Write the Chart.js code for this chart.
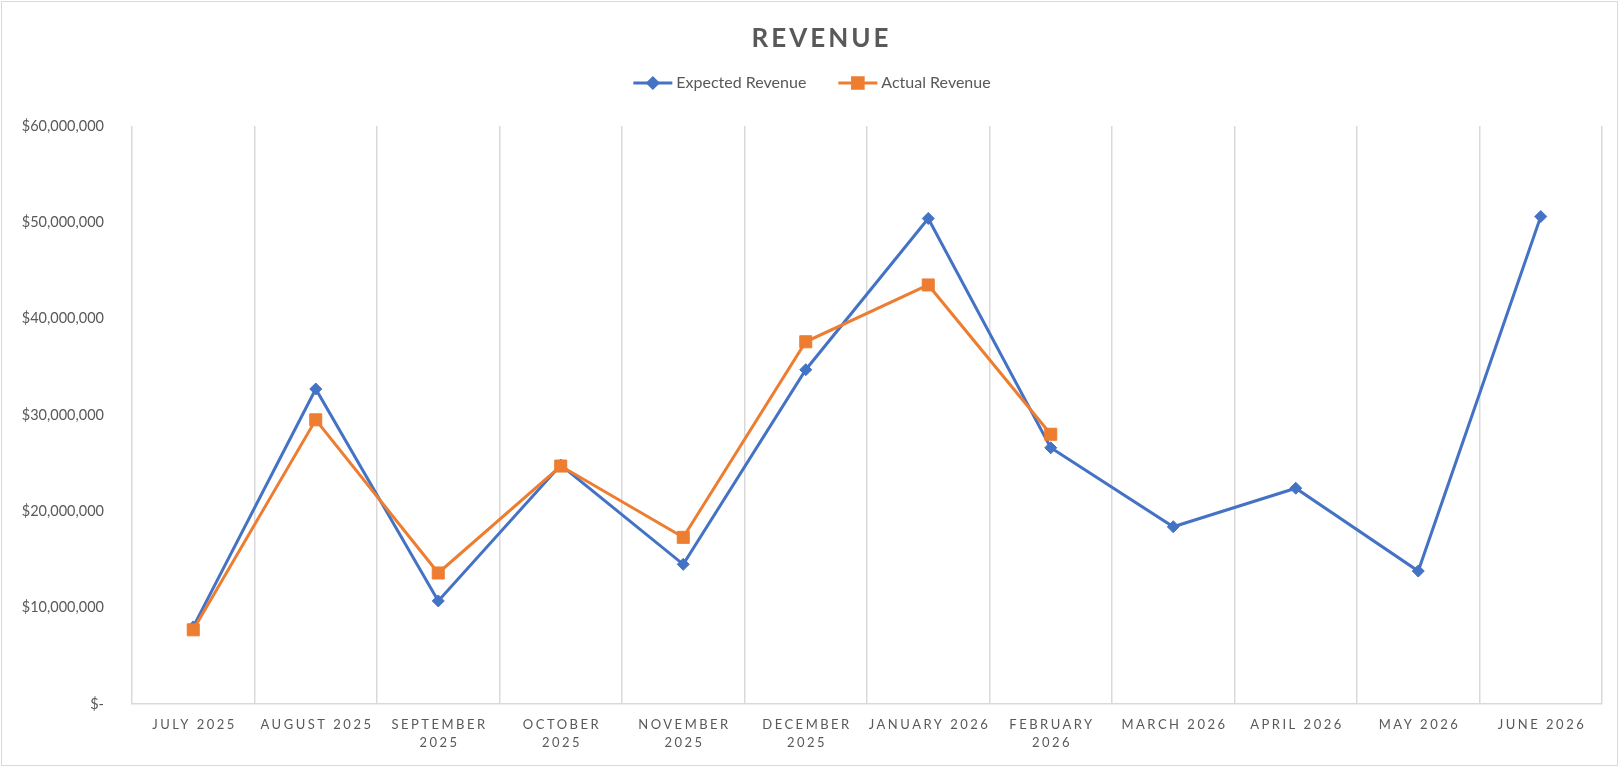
<!DOCTYPE html>
<html>
<head>
<meta charset="utf-8">
<script src="https://cdn.jsdelivr.net/npm/chart.js@4.4.1/dist/chart.umd.min.js"></script>
<style>
  html, body { margin: 0; padding: 0; background: #ffffff; }
  #wrap { position: relative; width: 1619px; height: 767px; }
</style>
</head>
<body>
<div id="wrap"><canvas id="c" width="1619" height="767"></canvas></div>
<script>
// ---- Data ----
const months = ["July 2025", "August 2025", "September 2025", "October 2025", "November 2025", "December 2025",
                "January 2026", "February 2026", "March 2026", "April 2026", "May 2026", "June 2026"];
const tickLabels = [["JULY 2025"], ["AUGUST 2025"], ["SEPTEMBER", "2025"], ["OCTOBER", "2025"], ["NOVEMBER", "2025"],
                    ["DECEMBER", "2025"], ["JANUARY 2026"], ["FEBRUARY", "2026"], ["MARCH 2026"], ["APRIL 2026"],
                    ["MAY 2026"], ["JUNE 2026"]];
const expectedRevenue = [8000000, 32700000, 10700000, 24800000, 14500000, 34700000,
                         50400000, 26600000, 18400000, 22400000, 13800000, 50600000];
const actualRevenue = [7700000, 29500000, 13600000, 24700000, 17300000, 37600000,
                       43500000, 28000000, null, null, null, null];
const yTickValues = [0, 10000000, 20000000, 30000000, 40000000, 50000000, 60000000];
const titleText = "REVENUE";
const seriesNames = ["Expected Revenue", "Actual Revenue"];

// ---- Styling ----
const BLUE = "#4472C4", ORANGE = "#ED7D31", TEXT = "#595959", GRID = "#d9d9d9";
const FONT = "Lato";

const borderPlugin = {
  id: "frame",
  beforeDraw(chart) {
    const ctx = chart.ctx;
    ctx.save();
    ctx.fillStyle = "#ffffff";
    ctx.fillRect(0, 0, chart.width, chart.height);
    ctx.strokeStyle = GRID;
    ctx.lineWidth = 1;
    ctx.strokeRect(1.5, 1.5, chart.width - 3, chart.height - 3);
    ctx.restore();
  }
};

const spacingPlugin = {
  id: "spacing",
  afterLayout(chart) {
    const xs = chart.scales.x;
    if (xs && !xs._spaced) {
      const orig = xs.drawLabels;
      xs.drawLabels = function (area) {
        const ctx = this.ctx;
        ctx.save();
        ctx.letterSpacing = "2.5px";
        ctx.translate(1.25, 0);
        orig.call(this, area);
        ctx.restore();
      };
      xs._spaced = true;
    }
    const tb = chart.titleBlock;
    if (tb && !tb._spaced) {
      const origT = tb.draw;
      tb.draw = function () {
        const ctx = this.ctx;
        ctx.save();
        ctx.letterSpacing = "3px";
        const cx = (this.left + this.right) / 2;
        ctx.translate(821.5 - cx, 0);
        origT.call(this);
        ctx.restore();
      };
      tb._spaced = true;
    }
  }
};

const legendPlugin = {
  id: "lineLegend",
  afterDraw(chart) {
    const ctx = chart.ctx;
    const ds = chart.data.datasets;
    const lineW = 39, gap = 4, itemGap = 32, y = 83;
    ctx.save();
    ctx.font = "16px " + FONT;
    const widths = ds.map(d => ctx.measureText(d.label).width);
    let total = 0;
    widths.forEach((w, i) => { total += lineW + gap + w + (i < widths.length - 1 ? itemGap : 0); });
    let x = 812 - total / 2;
    ds.forEach((d, i) => {
      ctx.strokeStyle = d.borderColor;
      ctx.lineWidth = 3;
      ctx.beginPath();
      ctx.moveTo(x, y);
      ctx.lineTo(x + lineW, y);
      ctx.stroke();
      ctx.fillStyle = d.pointBackgroundColor;
      ctx.strokeStyle = d.borderColor;
      Chart.helpers.drawPoint(ctx, {
        pointStyle: d.pointStyle,
        radius: d.pointStyle === "rect" ? 7.5 : 5,
        borderWidth: 1,
        rotation: 0
      }, x + lineW / 2, y);
      ctx.fillStyle = TEXT;
      ctx.textAlign = "left";
      ctx.textBaseline = "middle";
      ctx.fillText(d.label, x + lineW + gap, y);
      x += lineW + gap + widths[i] + itemGap;
    });
    ctx.restore();
  }
};

new Chart(document.getElementById("c"), {
  type: "line",
  data: {
    labels: tickLabels,
    datasets: [
      {
        label: seriesNames[0],
        data: expectedRevenue,
        borderColor: BLUE,
        backgroundColor: BLUE,
        pointBackgroundColor: BLUE,
        pointBorderColor: BLUE,
        borderWidth: 3,
        pointStyle: "rectRot",
        pointRadius: 6,
        pointBorderWidth: 1,
        tension: 0,
        order: 1
      },
      {
        label: seriesNames[1],
        data: actualRevenue,
        borderColor: ORANGE,
        backgroundColor: ORANGE,
        pointBackgroundColor: ORANGE,
        pointBorderColor: ORANGE,
        borderWidth: 3,
        pointStyle: "rect",
        pointRadius: 8.5,
        pointBorderWidth: 1,
        tension: 0,
        order: 0
      }
    ]
  },
  options: {
    responsive: false,
    animation: false,
    devicePixelRatio: 1,
    layout: { padding: { top: 0, left: 0, right: 17, bottom: 0 } },
    plugins: {
      legend: { display: false },
      tooltip: { enabled: false },
      title: {
        display: true,
        text: titleText,
        color: TEXT,
        font: { family: FONT, size: 26, weight: "bold", lineHeight: 1.2 },
        padding: { top: 23.4, bottom: 71.4 }
      }
    },
    scales: {
      x: {
        offset: true,
        grid: { offset: true, color: GRID, lineWidth: 1.5, drawTicks: false },
        border: { color: GRID, width: 1.5 },
        ticks: {
          autoSkip: false, maxRotation: 0, minRotation: 0,
          color: TEXT,
          font: { family: FONT, size: 13, lineHeight: 1.4 },
          padding: 12
        },
        afterFit(s) { s.height = 63; }
      },
      y: {
        min: 0, max: 60000000,
        grid: { display: false },
        border: { display: false },
        afterBuildTicks(s) { s.ticks = yTickValues.map(v => ({ value: v })); },
        ticks: {
          color: TEXT,
          font: { family: FONT, size: 14.5 },
          padding: 20,
          callback: v => v === 0 ? "$-" : "$" + Number(v).toLocaleString("en-US")
        },
        afterFit(s) { s.width = 132; }
      }
    }
  },
  plugins: [borderPlugin, spacingPlugin, legendPlugin]
});
</script>
</body>
</html>
